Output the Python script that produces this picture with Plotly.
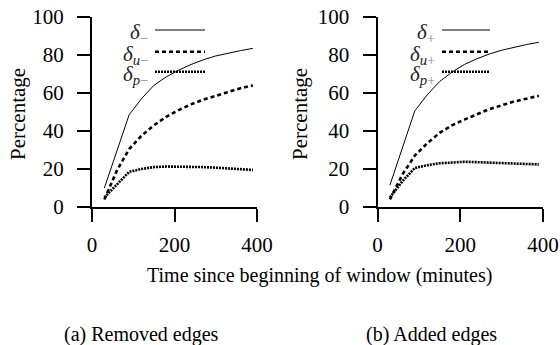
import plotly.graph_objects as go

# ---- data ----
minutes = [30, 60, 90, 120, 150, 180, 210, 240, 270, 300, 330, 360, 390]

removed_total = [10, 29, 48.5, 57, 64, 68.5, 72, 75, 77.5, 79.5, 81, 82.3, 83.5]
removed_u = [4, 19, 30.5, 37.5, 43, 47.5, 51, 54, 56.5, 58.5, 60.5, 62.5, 64]
removed_p = [5, 12, 18.5, 20, 21, 21.3, 21.3, 21.2, 21, 20.7, 20.2, 19.8, 19.5]

added_total = [11.5, 31, 50.5, 59, 66, 71, 75, 78, 80.5, 82.5, 84.2, 85.5, 86.7]
added_u = [4, 17, 27, 33.5, 39, 43, 46, 48.8, 51.5, 53.5, 55.5, 57, 58.5]
added_p = [5, 13.5, 20.5, 22, 23, 23.5, 23.8, 23.6, 23.4, 23.2, 23, 22.7, 22.4]

x_ticks = [0, 200, 400]
y_ticks = [0, 20, 40, 60, 80, 100]

y_title = "Percentage"
x_title = "Time since beginning of window (minutes)"
captions = ["(a) Removed edges", "(b) Added edges"]
legend_left = ["<i>δ</i><sub><span style='color:#888'>−</span></sub>",
               "<i>δ</i><sub><i>u</i><span style='color:#888'>−</span></sub>",
               "<i>δ</i><sub><i>p</i><span style='color:#888'>−</span></sub>"]
legend_right = ["<i>δ</i><sub><span style='color:#888'>+</span></sub>",
                "<i>δ</i><sub><i>u</i><span style='color:#888'>+</span></sub>",
                "<i>δ</i><sub><i>p</i><span style='color:#888'>+</span></sub>"]

W, H = 560, 345
FONT = "Liberation Serif"

styles = [dict(width=1, dash="solid"),
          dict(width=2.6, dash="4px,3px"),
          dict(width=2.6, dash="2px,1px")]

fig = go.Figure()
for series, xa, ya in [((removed_total, removed_u, removed_p), "x", "y"),
                       ((added_total, added_u, added_p), "x2", "y2")]:
    for vals, st in zip(series, styles):
        fig.add_trace(go.Scatter(x=minutes, y=vals, mode="lines", xaxis=xa, yaxis=ya,
                                 line=dict(color="black", width=st["width"], dash=st["dash"]),
                                 showlegend=False, hoverinfo="skip"))

def px(x):
    return x / W

def py(y):
    return 1 - y / H

axis_common = dict(showline=True, linecolor="black", linewidth=2, ticks="outside",
                   ticklen=13, tickwidth=2, tickcolor="black", showgrid=False,
                   zeroline=False, tickfont=dict(family=FONT, size=21, color="black"),
                   automargin=False)

ydom = [py(207), py(17)]
fig.update_layout(
    width=W, height=H, margin=dict(l=0, r=0, t=0, b=0),
    paper_bgcolor="white", plot_bgcolor="white",
    xaxis=dict(domain=[px(92), px(257)], range=[0, 400], tickvals=x_ticks,
               ticklabelstandoff=5, anchor="y", **axis_common),
    yaxis=dict(domain=ydom, range=[0, 100], tickvals=y_ticks,
               ticklabelstandoff=9, anchor="x", **axis_common),
    xaxis2=dict(domain=[px(377.5), px(543)], range=[0, 400], tickvals=x_ticks,
                ticklabelstandoff=5, anchor="y2", **axis_common),
    yaxis2=dict(domain=ydom, range=[0, 100], tickvals=y_ticks,
                ticklabelstandoff=9, anchor="x2", **axis_common),
)

ann = []
for xc in (18, 300):
    ann.append(dict(x=px(xc), y=py(114), xref="paper", yref="paper", text=y_title,
                    textangle=-90, showarrow=False, xanchor="center", yanchor="middle",
                    font=dict(family=FONT, size=21, color="black")))
ann.append(dict(x=px(319), y=py(275), xref="paper", yref="paper", text=x_title,
                showarrow=False, xanchor="center", yanchor="middle",
                font=dict(family=FONT, size=20, color="black")))
for xc, cap in zip((141, 431), captions):
    ann.append(dict(x=px(xc), y=py(334), xref="paper", yref="paper", text=cap,
                    showarrow=False, xanchor="center", yanchor="middle",
                    font=dict(family=FONT, size=20, color="black")))

shapes = []
leg_y = [30, 51.7, 71.7]
for labels, tx, x0, x1 in [(legend_left, 150, 155, 205), (legend_right, 437, 442, 490)]:
    for lab, yy, st in zip(labels, leg_y, styles):
        ann.append(dict(x=px(tx), y=py(yy + 3), xref="paper", yref="paper", text=lab,
                        showarrow=False, xanchor="right", yanchor="middle",
                        font=dict(family=FONT, size=21, color="#222")))
        shapes.append(dict(type="line", xref="paper", yref="paper",
                           x0=px(x0), x1=px(x1), y0=py(yy), y1=py(yy),
                           line=dict(color="black", width=st["width"], dash=st["dash"])))

fig.update_layout(annotations=ann, shapes=shapes)
fig.write_html("out.html", config={"displayModeBar": False},
               post_script="document.body.style.margin='0';document.body.style.padding='0';")
